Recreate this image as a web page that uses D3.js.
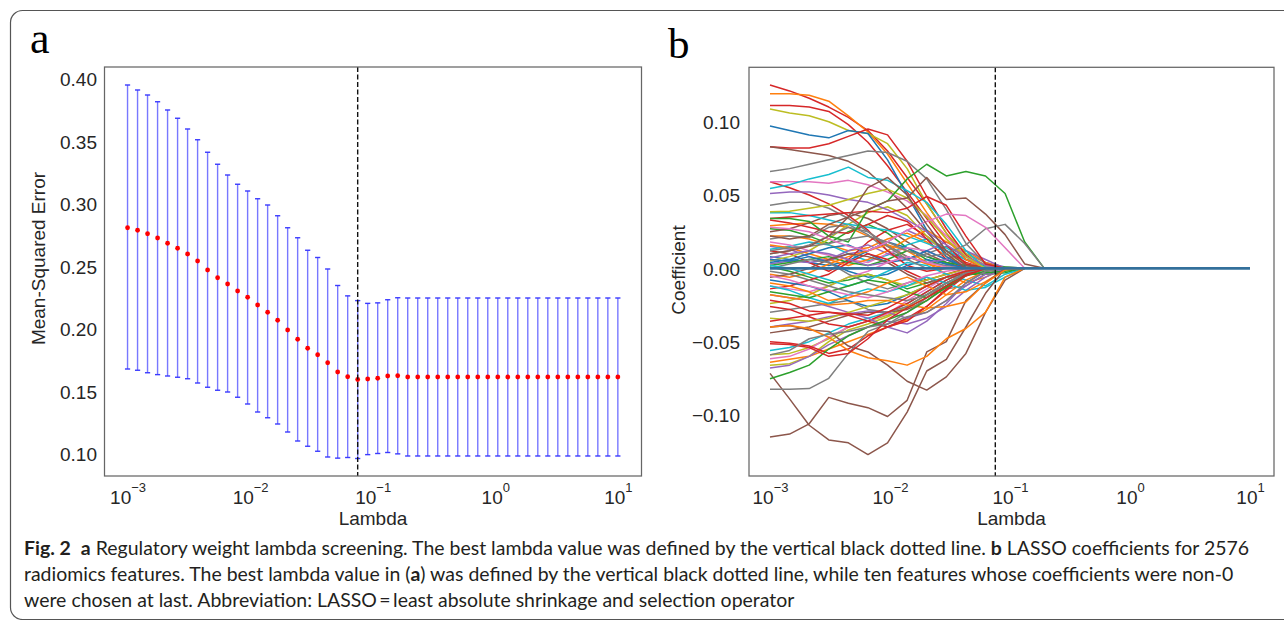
<!DOCTYPE html>
<html><head><meta charset="utf-8">
<script src="https://cdn.jsdelivr.net/npm/d3@7"></script>
<style>
html,body{margin:0;padding:0;background:#fff;}
svg{display:block;}
text{white-space:pre;}
</style></head><body>
<svg id="fig" width="1284" height="620"></svg>
<script>
// ---------- DATA ----------
const lambdas = [0.001,0.001207,0.001456,0.001758,0.002121,0.002560,0.003089,0.003728,0.004498,0.005429,
  0.006551,0.007906,0.009541,0.011514,0.013895,0.016768,0.020236,0.024421,0.029471,0.035565,
  0.042919,0.051795,0.062506,0.075431,0.091030,0.10985,0.13257,0.15999,0.19307,0.23300,
  0.28118,0.33932,0.40949,0.49417,0.59636,0.71969,0.86851,1.0481,1.2649,1.5264,
  1.8421,2.2230,2.6827,3.2375,3.9069,4.7149,5.6899,6.8665,8.2864,10];
const mseMean = [0.281,0.279,0.2762,0.2728,0.2686,0.2646,0.260,0.2544,0.2472,0.241,
  0.236,0.2304,0.2254,0.2192,0.2134,0.207,0.1992,0.1918,0.1846,0.1794,
  0.173,0.1656,0.1618,0.1596,0.160,0.1606,0.1624,0.1626,0.1616,0.1616,
  0.1616,0.1616,0.1616,0.1616,0.1616,0.1616,0.1616,0.1616,0.1616,0.1616,
  0.1616,0.1616,0.1616,0.1616,0.1616,0.1616,0.1616,0.1616,0.1616,0.1616];
const mseUpper = [0.3952,0.3912,0.3872,0.3818,0.3752,0.3686,0.360,0.3514,0.3414,0.3318,
  0.3232,0.3158,0.3104,0.3042,0.2992,0.2906,0.281,0.273,0.263,0.2572,
  0.2480,0.2348,0.2265,0.2227,0.2205,0.2209,0.2234,0.2250,0.2248,0.2248,
  0.2248,0.2248,0.2248,0.2248,0.2248,0.2248,0.2248,0.2248,0.2248,0.2248,
  0.2248,0.2248,0.2248,0.2248,0.2248,0.2248,0.2248,0.2248,0.2248,0.2248];
const mseLower = [0.168,0.167,0.165,0.1635,0.1624,0.1614,0.1602,0.1568,0.1534,0.151,
  0.1496,0.1454,0.140,0.1336,0.129,0.124,0.1176,0.1104,0.1062,0.1022,
  0.0976,0.0967,0.0972,0.0964,0.0995,0.1004,0.1012,0.1001,0.0984,0.0984,
  0.0984,0.0984,0.0984,0.0984,0.0984,0.0984,0.0984,0.0984,0.0984,0.0984,
  0.0984,0.0984,0.0984,0.0984,0.0984,0.0984,0.0984,0.0984,0.0984,0.0984];
const bestLambda = 0.075431;
const yTicksA = [0.10,0.15,0.20,0.25,0.30,0.35,0.40];
const yTicksB = [-0.10,-0.05,0.00,0.05,0.10];
const xTickExps = [-3,-2,-1,0,1];

// lambdas at which the coefficient paths are sampled
const pathLambdas = [0.001,0.001456,0.002121,0.003089,0.004498,0.006551,0.009541,0.013895,
  0.020236,0.029471,0.042919,0.062506,0.091030,0.13257,0.19307];
const coefPaths = [
  [0.029,0.030,0.031,0.030,0.028,0.022,0.015,0.008,0.003,0,0,0,0,0,0],
  [0.027,0.026,0.022,0.017,0.025,0.030,0.024,0.014,0.006,0.001,0,0,0,0,0],
  [0.025,0.027,0.031,0.036,0.038,0.034,0.027,0.018,0.010,0.004,0,0,0,0,0],
  [0.022,0.022,0.020,0.016,0.012,0.014,0.020,0.024,0.018,0.008,0.002,0,0,0,0],
  [0.020,0.022,0.021,0.028,0.030,0.023,0.012,0.006,0.010,0.015,0.008,0.001,0,0,0],
  [0.015,0.013,0.008,0.005,0.010,0.012,0.018,0.026,0.020,0.012,0.006,0.003,0,0,0],
  [0.013,0.015,0.018,0.016,0.010,0.005,0.009,0.016,0.020,0.014,0.006,0.001,0,0,0],
  [0.008,0.006,0.004,0.002,0.005,0.012,0.018,0.014,0.008,0.003,0,0,0,0,0],
  [0.012,0.010,0.004,-0.002,0.006,0.018,0.026,0.030,0.022,0.012,0.004,0,0,0,0],
  [0.018,0.016,0.012,0.009,0.006,0.004,0.010,0.014,0.012,0.006,0.003,0.001,0,0,0],
  [0.005,0.008,0.012,0.020,0.030,0.038,0.042,0.036,0.022,0.010,0.003,0,0,0,0],
  [0.033,0.031,0.028,0.025,0.024,0.030,0.036,0.032,0.020,0.006,0,0,0,0,0],
  [0.038,0.038,0.036,0.033,0.030,0.028,0.026,0.022,0.017,0.012,0.006,0.001,0,0,0],
  [0.010,0.012,0.016,0.022,0.028,0.025,0.016,0.008,0.004,0.002,0,0,0,0,0],
  [0.003,0.005,0.004,0.006,0.012,0.016,0.010,0.006,0.012,0.018,0.010,0.004,0.001,0,0],
  [0.016,0.014,0.010,0.006,0.002,0.006,0.012,0.020,0.026,0.018,0.012,0.004,0,0,0],
  [0.002,0.004,0.006,0.008,0.004,0.002,0.006,0.012,0.008,0.004,0.002,0.002,0.001,0,0],
  [0.004,0.006,0.010,0.014,0.016,0.010,0.004,0.006,0.012,0.006,0.001,0,0,0,0],
  [0.059,0.055,0.050,0.044,0.036,0.026,0.012,0.002,-0.002,0,0,0,0,0,0],
  [0.006,0.005,0.008,0.004,-0.002,-0.006,-0.004,0.002,0.006,0.003,0,0,0,0,0],
  [-0.004,-0.006,-0.003,0.003,0.008,0.012,0.016,0.012,0.004,-0.004,-0.010,-0.006,0,0,0],
  [0.001,-0.002,-0.006,-0.010,-0.008,-0.004,-0.008,-0.014,-0.010,-0.006,-0.004,-0.004,-0.003,0,0],
  [-0.014,-0.012,-0.008,-0.004,0.004,0.010,0.006,-0.002,-0.008,-0.004,0,0,0,0,0],
  [0.007,0.010,0.012,0.010,0.006,0.002,0.004,0.008,0.004,0.006,0.012,0.006,0,0,0],
  [-0.006,-0.004,0.000,0.006,0.010,0.008,0.004,-0.004,-0.010,-0.006,-0.002,0,0,0,0],
  [-0.012,-0.014,-0.016,-0.012,-0.006,-0.002,0.004,0.008,0.004,0.001,0,0,0,0,0],
  [0.000,0.003,0.006,0.004,-0.004,-0.010,-0.014,-0.010,-0.006,-0.014,-0.012,-0.004,0,0,0],
  [-0.024,-0.022,-0.018,-0.012,-0.006,-0.004,-0.008,-0.012,-0.008,-0.004,-0.001,0,0,0,0],
  [0.002,0.000,-0.004,-0.008,-0.012,-0.008,-0.002,0.004,0.002,-0.004,-0.008,-0.012,-0.004,0,0],
  [-0.056,-0.054,-0.050,-0.044,-0.038,-0.034,-0.030,-0.024,-0.016,-0.008,-0.002,0,0,0,0],
  [-0.059,-0.058,-0.054,-0.048,-0.040,-0.036,-0.032,-0.027,-0.020,-0.012,-0.004,0,0,0,0],
  [-0.0616,-0.060,-0.055,-0.047,-0.040,-0.036,-0.031,-0.022,-0.014,-0.006,-0.001,0,0,0,0],
  [-0.064,-0.062,-0.060,-0.055,-0.050,-0.045,-0.040,-0.035,-0.028,-0.018,-0.008,-0.002,0,0,0],
  [-0.066,-0.065,-0.060,-0.050,-0.042,-0.038,-0.033,-0.026,-0.018,-0.010,-0.004,0,0,0,0],
  [-0.068,-0.066,-0.060,-0.052,-0.046,-0.040,-0.036,-0.038,-0.034,-0.026,-0.015,-0.006,0,0,0],
  [-0.050,-0.051,-0.053,-0.058,-0.055,-0.046,-0.040,-0.034,-0.026,-0.015,-0.005,0,0,0,0],
  [-0.044,-0.042,-0.040,-0.036,-0.032,-0.030,-0.030,-0.028,-0.022,-0.012,-0.004,0,0,0,0],
  [-0.040,-0.038,-0.036,-0.033,-0.031,-0.029,-0.030,-0.034,-0.030,-0.022,-0.012,-0.004,0,0,0],
  [-0.030,-0.028,-0.026,-0.024,-0.022,-0.028,-0.030,-0.026,-0.018,-0.010,-0.004,-0.001,0,0,0],
  [-0.026,-0.028,-0.033,-0.038,-0.040,-0.036,-0.030,-0.024,-0.016,-0.008,-0.002,0,0,0,0],
  [-0.012,-0.015,-0.020,-0.024,-0.018,-0.014,-0.016,-0.012,-0.006,-0.010,-0.015,-0.013,-0.006,0,0],
  [-0.008,-0.010,-0.012,-0.016,-0.022,-0.026,-0.024,-0.018,-0.012,-0.006,-0.002,0,0,0,0],
  [-0.016,-0.018,-0.020,-0.016,-0.012,-0.008,-0.010,-0.016,-0.020,-0.012,-0.004,-0.003,-0.002,0,0],
  [-0.018,-0.020,-0.022,-0.026,-0.030,-0.034,-0.040,-0.044,-0.036,-0.024,-0.010,-0.002,0,0,0],
  [-0.005,-0.008,-0.012,-0.015,-0.018,-0.020,-0.016,-0.010,-0.005,-0.002,0,0,0,0,0],
  [-0.034,-0.035,-0.036,-0.034,-0.030,-0.026,-0.022,-0.018,-0.012,-0.006,-0.002,0,0,0,0],
  [-0.010,-0.012,-0.016,-0.022,-0.020,-0.016,-0.010,-0.006,-0.012,-0.018,-0.016,-0.009,-0.001,0,0],
  [-0.002,-0.004,-0.008,-0.012,-0.016,-0.018,-0.020,-0.022,-0.018,-0.010,-0.004,0,0,0,0],
  [-0.036,-0.034,-0.032,-0.030,-0.032,-0.036,-0.040,-0.036,-0.026,-0.014,-0.004,0,0,0,0],
  [-0.0716,-0.089,-0.107,-0.117,-0.119,-0.127,-0.119,-0.098,-0.070,-0.062,-0.040,-0.017,0,0,0],
  [-0.115,-0.113,-0.106,-0.088,-0.092,-0.095,-0.101,-0.090,-0.057,-0.050,-0.022,-0.010,0,0,0],
  [-0.040,-0.039,-0.042,-0.043,-0.053,-0.057,-0.066,-0.077,-0.083,-0.074,-0.058,-0.030,-0.008,0,0],
  [-0.040,-0.039,-0.041,-0.047,-0.056,-0.061,-0.063,-0.066,-0.060,-0.048,-0.041,-0.030,-0.006,0,0],
  [-0.018,-0.020,-0.022,-0.025,-0.024,-0.022,-0.022,-0.025,-0.027,-0.026,-0.023,-0.010,-0.001,0,0],
  [-0.0825,-0.0825,-0.082,-0.075,-0.058,-0.043,-0.038,-0.030,-0.020,-0.010,-0.003,0,0,0,0],
  [-0.0753,-0.071,-0.066,-0.055,-0.046,-0.040,-0.035,-0.030,-0.022,-0.013,-0.005,-0.002,0,0,0],
  [-0.0514,-0.052,-0.054,-0.060,-0.058,-0.048,-0.035,-0.027,-0.020,-0.012,-0.005,0,0,0,0],
  [-0.0218,-0.024,-0.029,-0.030,-0.031,-0.032,-0.027,-0.020,-0.012,-0.006,-0.002,0,0,0,0],
  [-0.059,-0.056,-0.048,-0.045,-0.043,-0.040,-0.038,-0.033,-0.030,-0.022,-0.010,-0.002,0,0,0],
  [0.125,0.121,0.116,0.110,0.103,0.094,0.080,0.062,0.044,0.024,0.006,0,0,0,0],
  [0.119,0.119,0.118,0.114,0.104,0.093,0.078,0.058,0.038,0.020,0.006,0,0,0,0],
  [0.111,0.111,0.110,0.107,0.098,0.086,0.070,0.052,0.034,0.016,0.003,0,0,0,0],
  [0.1086,0.106,0.104,0.100,0.094,0.092,0.085,0.068,0.044,0.024,0.010,0.002,0,0,0],
  [0.097,0.094,0.091,0.089,0.094,0.092,0.074,0.050,0.026,0.008,0,0,0,0,0],
  [0.083,0.082,0.082,0.085,0.090,0.095,0.091,0.073,0.049,0.027,0.009,0,0,0,0],
  [0.083,0.081,0.079,0.077,0.073,0.066,0.054,0.041,0.025,0.010,0,0,0,0,0],
  [0.066,0.068,0.071,0.074,0.077,0.080,0.079,0.073,0.061,0.040,0.017,0.003,0,0,0],
  [0.059,0.059,0.059,0.058,0.060,0.057,0.052,0.046,0.036,0.022,0.008,0,0,0,0],
  [0.0545,0.057,0.061,0.064,0.069,0.062,0.060,0.053,0.045,0.030,0.012,0,0,0,0],
  [0.051,0.052,0.052,0.050,0.047,0.045,0.040,0.033,0.025,0.016,0.008,0.002,0,0,0],
  [0.043,0.045,0.045,0.041,0.034,0.025,0.015,0.006,0,0,0,0,0,0,0],
  [0.0386,0.039,0.041,0.043,0.047,0.051,0.054,0.048,0.035,0.020,0.008,0,0,0,0],
  [0.034,0.035,0.036,0.037,0.038,0.039,0.038,0.041,0.049,0.043,0.022,0.003,0,0,0],
  [0.034,0.034,0.032,0.022,0.018,0.040,0.046,0.061,0.071,0.063,0.066,0.063,0.051,0.018,0],
  [0.022,0.020,0.022,0.030,0.035,0.040,0.046,0.048,0.062,0.047,0.048,0.037,0.023,0.003,0],
  [0.012,0.014,0.015,0.017,0.020,0.022,0.018,0.012,0.008,0.010,0.016,0.027,0.030,0.017,0],
  [0.028,0.027,0.025,0.020,0.015,0.012,0.018,0.026,0.032,0.037,0.036,0.028,0.014,0,0],
  [0.010,0.012,0.015,0.022,0.035,0.055,0.062,0.050,0.030,0.012,0.002,0,0,0,0]
];
const pathColorKey = [
  "orange","green","brown","orange","gray","purple","cyan","blue","red","pink","olive","red","cyan","gray","purple","orange","green","blue","red",
  "blue","orange","green","red","purple","brown","pink","gray","olive","cyan",
  "cyan","olive","pink","orange","olive","purple","red","brown","purple","gray","red","cyan","blue","green","purple","pink","olive","orange","gray","red",
  "brown","brown","brown","orange","orange","gray","green","red","red","gray",
  "red","orange","red","olive","blue","red","brown","gray","pink","cyan","purple","gray","olive","red","green","brown","gray","pink","brown"
];
const tab10 = {blue:"#1f77b4",orange:"#ff7f0e",green:"#2ca02c",red:"#d62728",purple:"#9467bd",
  brown:"#8c564b",pink:"#e377c2",gray:"#7f7f7f",olive:"#bcbd22",cyan:"#17becf"};

// ---------- DRAW ----------
const svg = d3.select('#fig');
const SANS = "'Liberation Sans', Arial, sans-serif";
const TXT = "#262626";

svg.append('rect').attr('x',10.5).attr('y',10.5).attr('width',1300).attr('height',609)
  .attr('rx',12).attr('fill','none').attr('stroke','#555').attr('stroke-width',1.2);

function drawXAxis(g, scale, y) {
  const ax = g.append('g').attr('transform', `translate(0,${y})`)
    .call(d3.axisBottom(scale).tickValues(xTickExps.map(e => Math.pow(10, e))).tickSize(0).tickFormat(''));
  ax.select('.domain').remove();
  ax.selectAll('.tick').each(function(d) {
    const t = d3.select(this).append('text').attr('y', 28).attr('text-anchor','middle')
      .attr('fill', TXT).attr('font-family', SANS).attr('font-size', 19);
    t.append('tspan').text('10');
    t.append('tspan').attr('dy', -12).attr('font-size', 13)
      .text(String(Math.round(Math.log10(d))).replace('-', '\u2212'));
  });
}
function drawYAxis(g, scale, x, ticks, pad) {
  const ay = g.append('g').attr('transform', `translate(${x},0)`)
    .call(d3.axisLeft(scale).tickValues(ticks).tickSize(0).tickPadding(pad).tickFormat(d3.format('.2f')));
  ay.select('.domain').remove();
  ay.selectAll('text').attr('fill', TXT).attr('font-family', SANS).attr('font-size', 19).attr('dy','0.35em');
}

// ---- Panel a ----
const gA = svg.append('g');
const xA = d3.scaleLog().domain([Math.pow(10,-3.188), Math.pow(10,1.193)]).range([104.5, 641.5]);
const yA = d3.scaleLinear().domain([0.0824, 0.4096]).range([476, 67]);

gA.append('text').attr('x', 30).attr('y', 53).attr('font-family',"'Liberation Serif', 'Times New Roman', serif")
  .attr('font-size', 44).attr('fill','#000').text('a');

const idx = d3.range(lambdas.length);
gA.selectAll('line.bar').data(idx).join('line').attr('class','bar')
  .attr('x1', i => xA(lambdas[i])).attr('x2', i => xA(lambdas[i]))
  .attr('y1', i => yA(mseLower[i])).attr('y2', i => yA(mseUpper[i]))
  .attr('stroke', '#7878ff').attr('stroke-width', 1.4);
['lower','upper'].forEach(k => {
  const arr = k === 'lower' ? mseLower : mseUpper;
  gA.selectAll('line.cap' + k).data(idx).join('line').attr('class','cap' + k)
    .attr('x1', i => xA(lambdas[i]) - 2.6).attr('x2', i => xA(lambdas[i]) + 2.6)
    .attr('y1', i => yA(arr[i])).attr('y2', i => yA(arr[i]))
    .attr('stroke', '#3a3aff').attr('stroke-width', 1.4);
});
gA.selectAll('circle.pt').data(idx).join('circle').attr('class','pt')
  .attr('cx', i => xA(lambdas[i])).attr('cy', i => yA(mseMean[i])).attr('r', 2.4).attr('fill', '#ff0000');

gA.append('line').attr('x1', xA(bestLambda)).attr('x2', xA(bestLambda))
  .attr('y1', yA.range()[1]).attr('y2', yA.range()[0])
  .attr('stroke', '#111').attr('stroke-width', 1.4).attr('stroke-dasharray', '5,2.5');

gA.append('rect').attr('x', 104.5).attr('y', 67).attr('width', 537).attr('height', 409)
  .attr('fill','none').attr('stroke','#666').attr('stroke-width',1.25);
drawYAxis(gA, yA, 104.5, yTicksA, 7.5);
drawXAxis(gA, xA, 476);
gA.append('text').attr('x', (104.5 + 641.5) / 2).attr('y', 525).attr('text-anchor','middle')
  .attr('font-family', SANS).attr('font-size', 19).attr('fill', TXT).text('Lambda');
gA.append('text').attr('transform','translate(45,258.5) rotate(-90)').attr('text-anchor','middle')
  .attr('font-family', SANS).attr('font-size', 19).attr('fill', TXT).text('Mean-Squared Error');

// ---- Panel b ----
const gB = svg.append('g');
const xB = d3.scaleLog().domain([Math.pow(10,-3.175), Math.pow(10,1.2)]).range([749, 1274]);
const yB = d3.scaleLinear().domain([-0.1416, 0.1371]).range([476, 67.3]);

gB.append('text').attr('x', 668).attr('y', 58).attr('font-family',"'Liberation Serif', 'Times New Roman', serif")
  .attr('font-size', 43).attr('fill','#000').text('b');

const line = d3.line().x(d => xB(d[0])).y(d => yB(d[1]));
gB.selectAll('path.coef').data(coefPaths).join('path').attr('class','coef')
  .attr('d', vals => line(vals.map((v, j) => [pathLambdas[j], v])))
  .attr('fill','none').attr('stroke', (v, i) => tab10[pathColorKey[i]]).attr('stroke-width', 1.5)
  .attr('stroke-linejoin','round');
gB.append('path').attr('d', line([[lambdas[0], 0], [lambdas[lambdas.length - 1], 0]]))
  .attr('fill','none').attr('stroke', '#33709b').attr('stroke-width', 2.8);

gB.append('line').attr('x1', xB(bestLambda)).attr('x2', xB(bestLambda))
  .attr('y1', yB.range()[1]).attr('y2', yB.range()[0])
  .attr('stroke', '#111').attr('stroke-width', 1.4).attr('stroke-dasharray', '5,2.5');

gB.append('rect').attr('x', 749).attr('y', 67.3).attr('width', 525).attr('height', 408.7)
  .attr('fill','none').attr('stroke','#666').attr('stroke-width',1.25);
drawYAxis(gB, yB, 749, yTicksB, 9);
drawXAxis(gB, xB, 476);
gB.append('text').attr('x', (749 + 1274) / 2).attr('y', 525).attr('text-anchor','middle')
  .attr('font-family', SANS).attr('font-size', 19).attr('fill', TXT).text('Lambda');
gB.append('text').attr('transform','translate(685,270) rotate(-90)').attr('text-anchor','middle')
  .attr('font-family', SANS).attr('font-size', 19).attr('fill', TXT).text('Coefficient');

// ---- Caption ----
const captionLines = [
  [["Fig. 2", true], ["  ", false], ["a", true], [" Regulatory weight lambda screening. The best lambda value was defined by the vertical black dotted line. ", false], ["b", true], [" LASSO coefficients for 2576", false]],
  [["radiomics features. The best lambda value in (", false], ["a", true], [") was defined by the vertical black dotted line, while ten features whose coefficients were non-0", false]],
  [["were chosen at last. Abbreviation: LASSO\u2009=\u2009least absolute shrinkage and selection operator", false]]
];
const capBase = [555, 581, 607];
const capTexts = captionLines.map((segs, k) => {
  const t = svg.append('text').attr('x', 0).attr('y', 0)
    .attr('font-family', "Lato, 'Open Sans', sans-serif").attr('font-size', 18.5).attr('fill', '#231f20');
  segs.forEach(([s, b]) => t.append('tspan').attr('font-weight', b ? 700 : 400).text(s));
  return t;
});
const w0 = capTexts[0].node().getComputedTextLength();
const sc = 1226 / w0;
capTexts.forEach((t, k) => t.attr('transform', `translate(24,${capBase[k]}) scale(${sc},1)`));
</script>
</body></html>
